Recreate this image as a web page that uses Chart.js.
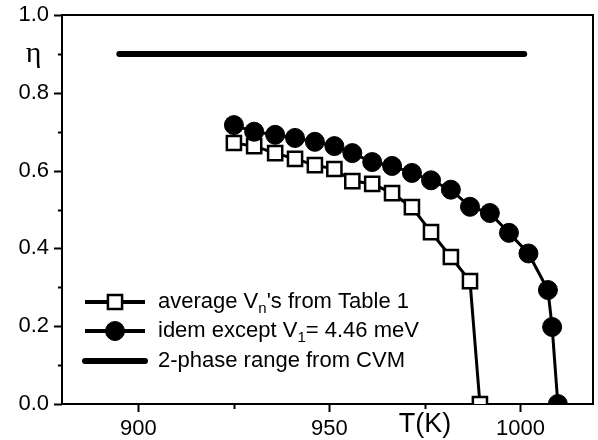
<!DOCTYPE html>
<html>
<head>
<meta charset="utf-8">
<script src="https://cdn.jsdelivr.net/npm/chart.js@4.4.0/dist/chart.umd.min.js"></script>
<style>
  html, body { margin: 0; padding: 0; background: #fff; }
</style>
</head>
<body>
<canvas id="eta-chart" width="598" height="440"></canvas>
<script>
// Temperatura (K) y parametro de orden eta

// average V_n's from Table 1 (cuadrados)
var tempPromedio = [925.0, 930.3, 935.8, 941.0, 946.2, 951.3, 956.0, 961.2, 966.4, 971.6, 976.6, 981.8, 986.8, 989.4];
var etaPromedio = [0.671, 0.663, 0.645, 0.630, 0.614, 0.604, 0.573, 0.566, 0.542, 0.506, 0.442, 0.378, 0.316, 0.0];

// idem except V_1 = 4.46 meV (circulos)
var tempIdem = [925.0, 930.3, 935.8, 941.0, 946.2, 951.3, 956.0, 961.2, 966.4, 971.6, 976.6, 981.8, 986.8, 992.0, 997.0, 1002.1, 1007.2, 1008.3, 1009.8];
var etaIdem = [0.717, 0.700, 0.692, 0.684, 0.674, 0.663, 0.645, 0.622, 0.612, 0.594, 0.575, 0.551, 0.507, 0.491, 0.440, 0.387, 0.293, 0.198, 0.0];

// 2-phase range from CVM
var tempCVM = [895, 1001];
var etaCVM = [0.9, 0.9];

// Ticks de los ejes
var ticksX = [900, 925, 950, 975, 1000];
var etiquetasX = ['900', '', '950', 'T(K)', '1000'];
var etiquetasY = ['0.0', '', '0.2', '', '0.4', '', '0.6', '', '0.8', '\u03b7 ', '1.0'];

// Textos de la leyenda, con subindices
var leyenda = [
    [{ t: 'average V' }, { t: 'n', sub: true }, { t: "'s from Table 1" }],
    [{ t: 'idem except V' }, { t: '1', sub: true }, { t: '= 4.46 meV' }],
    [{ t: '2-phase range from CVM' }]
];

var fuente = '"Liberation Sans", Arial, sans-serif';

function puntos(xs, ys) {
    return xs.map(function (x, i) { return { x: x, y: ys[i] }; });
}

// Marco del grafico y marcas de los ejes (largas y cortas)
var marcoEjes = {
    id: 'marcoEjes',
    beforeDatasetsDraw: function (chart) {
        var ctx = chart.ctx, a = chart.chartArea;
        var sx = chart.scales.x, sy = chart.scales.y;
        ctx.save();
        ctx.strokeStyle = '#000';
        ctx.lineWidth = 2;
        ctx.strokeRect(a.left, a.top, a.right - a.left, a.bottom - a.top);
        ctx.beginPath();
        sx.ticks.forEach(function (t) {
            var px = Math.round(sx.getPixelForValue(t.value)) + 0.5;
            var largo = (t.value % 50 === 0) ? 8 : 5;
            ctx.moveTo(px, a.bottom);
            ctx.lineTo(px, a.bottom + largo);
        });
        sy.ticks.forEach(function (t) {
            var py = Math.round(sy.getPixelForValue(t.value)) + 0.5;
            var largo = (Math.round(t.value * 10) % 2 === 0) ? 8 : 4;
            ctx.moveTo(a.left, py);
            ctx.lineTo(a.left - largo, py);
        });
        ctx.stroke();
        ctx.restore();
    }
};

// Leyenda dentro del area de datos
var leyendaInterna = {
    id: 'leyendaInterna',
    afterDraw: function (chart) {
        var ctx = chart.ctx;
        var filas = [302, 331, 361];
        var x0 = 85, x1 = 145, xt = 158;
        ctx.save();
        filas.forEach(function (y, i) {
            var ds = chart.data.datasets[i];
            ctx.strokeStyle = '#000';
            ctx.beginPath();
            ctx.lineWidth = i === 2 ? ds.borderWidth : 4;
            ctx.lineCap = i === 2 ? 'round' : 'butt';
            ctx.moveTo(x0, y);
            ctx.lineTo(x1, y);
            ctx.stroke();
            if (ds.pointRadius > 0) {
                ctx.fillStyle = ds.pointBackgroundColor;
                ctx.lineWidth = ds.pointBorderWidth;
                Chart.helpers.drawPoint(ctx, {
                    pointStyle: ds.pointStyle,
                    radius: ds.pointRadius,
                    rotation: 0,
                    borderWidth: ds.pointBorderWidth
                }, (x0 + x1) / 2, y);
            }
            var x = xt;
            ctx.fillStyle = '#000';
            ctx.textBaseline = 'middle';
            leyenda[i].forEach(function (p) {
                ctx.font = (p.sub ? '15px ' : '22px ') + fuente;
                ctx.fillText(p.t, x, p.sub ? y + 7 : y);
                x += ctx.measureText(p.t).width;
            });
        });
        ctx.restore();
    }
};

var ctx = document.getElementById('eta-chart').getContext('2d');

var grafico = new Chart(ctx, {
    type: 'scatter',
    data: {
        datasets: [{
            label: "average V_n's from Table 1",
            data: puntos(tempPromedio, etaPromedio),
            showLine: true,
            borderColor: '#000',
            borderWidth: 3,
            pointStyle: 'rect',
            pointRadius: 10,
            pointBackgroundColor: '#fff',
            pointBorderColor: '#000',
            pointBorderWidth: 2.5,
            order: 2
        }, {
            label: 'idem except V_1= 4.46 meV',
            data: puntos(tempIdem, etaIdem),
            showLine: true,
            borderColor: '#000',
            borderWidth: 3,
            pointStyle: 'circle',
            pointRadius: 9.5,
            pointBackgroundColor: '#000',
            pointBorderColor: '#000',
            pointBorderWidth: 1,
            order: 1
        }, {
            label: '2-phase range from CVM',
            data: puntos(tempCVM, etaCVM),
            showLine: true,
            borderColor: '#000',
            borderWidth: 6,
            borderCapStyle: 'round',
            pointRadius: 0,
            order: 3
        }]
    },
    options: {
        responsive: false,
        animation: false,
        devicePixelRatio: 1,
        layout: {
            autoPadding: false,
            padding: { top: 15, right: 5, left: 0, bottom: 0 }
        },
        plugins: {
            legend: { display: false },
            tooltip: { enabled: false }
        },
        scales: {
            x: {
                type: 'linear',
                min: 880,
                max: 1019,
                grid: { display: false, drawTicks: false },
                border: { display: false },
                afterBuildTicks: function (s) {
                    s.ticks = ticksX.map(function (v) { return { value: v }; });
                },
                afterFit: function (s) {
                    s.height = 36;
                    s.paddingLeft = 0;
                    s.paddingRight = 0;
                },
                ticks: {
                    padding: 12,
                    color: '#000',
                    maxRotation: 0,
                    autoSkip: false,
                    font: function (c) {
                        if (c.tick && c.tick.value === 975) {
                            return { family: fuente, size: 27, lineHeight: 0.65 };
                        }
                        return { family: fuente, size: 22 };
                    },
                    callback: function (v) {
                        return etiquetasX[ticksX.indexOf(v)];
                    }
                }
            },
            y: {
                min: 0,
                max: 1,
                grid: { display: false, drawTicks: false },
                border: { display: false },
                afterFit: function (s) {
                    s.width = 62;
                    s.paddingTop = 0;
                    s.paddingBottom = 0;
                },
                ticks: {
                    stepSize: 0.1,
                    padding: 13,
                    color: '#000',
                    autoSkip: false,
                    font: function (c) {
                        var d = c.tick ? Math.round(c.tick.value * 10) : 0;
                        if (d === 9) {
                            return { family: '"Liberation Serif", serif', size: 30 };
                        }
                        return { family: fuente, size: 22 };
                    },
                    callback: function (v) {
                        return etiquetasY[Math.round(v * 10)];
                    }
                }
            }
        }
    },
    plugins: [marcoEjes, leyendaInterna]
});
</script>
</body>
</html>
